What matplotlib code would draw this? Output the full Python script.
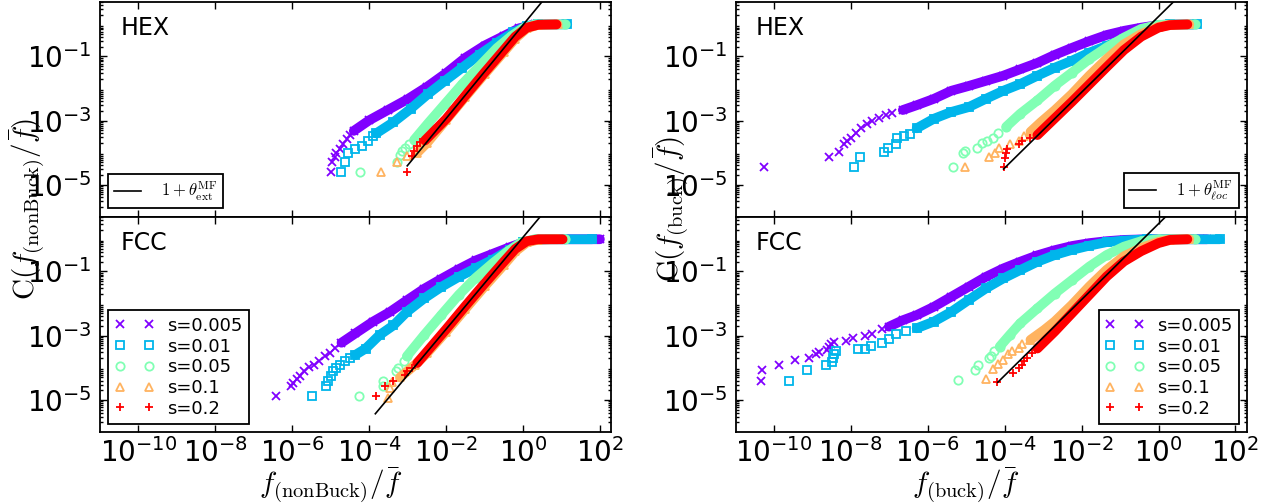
import numpy as np
import matplotlib
matplotlib.use('Agg')
import matplotlib.pyplot as plt
from matplotlib.ticker import FixedLocator, LogLocator, NullLocator, NullFormatter, LogFormatterSciNotation
from matplotlib.lines import Line2D

plt.rcParams['mathtext.fontset'] = 'cm'
plt.rcParams['axes.unicode_minus'] = False
plt.rcParams['font.family'] = ['DejaVu Sans']

# ---------------- common ----------------
labels = ['s=0.005', 's=0.01', 's=0.05', 's=0.1', 's=0.2']
markers = ['x', 's', 'o', '^', '+']
x_ticks = [1e-10, 1e-8, 1e-6, 1e-4, 1e-2, 1e0, 1e2]
y_ticks = [1e-5, 1e-3, 1e-1]

# ---------------- data (log10 f/fbar, log10 C) ----------------
# Left top: HEX, nonBuck
LT_005_tail = [(-5.0, -4.6), (-4.97, -4.3), (-4.9, -4.15), (-4.85, -4.0), (-4.76, -3.9), (-4.67, -3.72), (-4.58, -3.56), (-4.49, -3.46)]
LT_005_band = [(-4.4, -3.32), (-4.0, -2.99), (-3.5, -2.66), (-3.0, -2.33), (-2.5, -1.95), (-2.0, -1.52), (-1.5, -1.04), (-1.0, -0.66), (-0.5, -0.36), (-0.1, -0.12), (0.3, 0.0), (0.9, 0.0)]
LT_01_tail = [(-4.74, -4.6), (-4.63, -4.3), (-4.56, -4.0), (-4.38, -3.87), (-4.18, -3.79), (-4.04, -3.64), (-3.91, -3.48)]
LT_01_band = [(-3.82, -3.4), (-3.37, -3.05), (-2.92, -2.63), (-2.48, -2.18), (-2.03, -1.76), (-1.58, -1.35), (-1.13, -0.94), (-0.68, -0.57), (-0.25, -0.25), (0.1, -0.05), (0.4, 0.0), (1.15, 0.0)]
LT_05_tail = [(-4.24, -4.6), (-3.28, -4.3), (-3.21, -4.08), (-3.15, -3.95), (-3.06, -3.84), (-2.97, -3.74)]
LT_05_band = [(-2.83, -3.6), (-2.48, -3.1), (-2.03, -2.48), (-1.58, -1.86), (-1.13, -1.3), (-0.68, -0.74), (-0.3, -0.36), (0.0, -0.12), (0.3, 0.0), (1.08, 0.0)]
LT_1_tail = [(-3.7, -4.6), (-3.28, -4.3), (-3.01, -4.1)]
LT_1_band = [(-2.75, -4.0), (-2.5, -3.7), (-2.0, -2.98), (-1.5, -2.26), (-1.0, -1.55), (-0.5, -0.86), (-0.2, -0.44), (0.1, -0.12), (0.4, -0.01), (0.9, 0.0)]
LT_2_tail = [(-3.01, -4.6), (-2.88, -4.1), (-2.83, -3.95), (-2.76, -3.79), (-2.67, -3.67)]
LT_2_band = [(-2.55, -3.62), (-2.0, -2.95), (-1.5, -2.22), (-1.0, -1.5), (-0.5, -0.8), (-0.2, -0.38), (0.1, -0.1), (0.4, -0.01), (0.87, 0.0)]
LT_fit = (-3.01, -4.41, 1.46)   # start log x, start log C, slope

# Left bottom: FCC, nonBuck
LB_005_tail = [(-6.42, -4.89), (-6.04, -4.57), (-5.97, -4.47), (-5.88, -4.36), (-5.79, -4.26), (-5.70, -4.10), (-5.57, -3.98), (-5.43, -3.90), (-5.30, -3.79), (-5.16, -3.64), (-5.03, -3.53), (-4.89, -3.38)]
LB_005_band = [(-4.72, -3.22), (-4.36, -2.93), (-3.91, -2.57), (-3.46, -2.26), (-3.02, -1.9), (-2.57, -1.54), (-2.12, -1.23), (-1.67, -0.93), (-1.23, -0.66), (-0.78, -0.45), (-0.35, -0.25), (0.0, -0.1), (0.35, -0.01), (0.7, 0.0), (2.0, 0.0)]
LB_01_tail = [(-5.49, -4.89), (-5.12, -4.57), (-5.06, -4.42), (-5.0, -4.26), (-4.94, -4.10), (-4.85, -4.0), (-4.76, -3.90), (-4.63, -3.79), (-4.49, -3.69)]
LB_01_band = [(-4.36, -3.6), (-4.09, -3.4), (-3.73, -2.98), (-3.37, -2.68), (-3.02, -2.26), (-2.57, -1.84), (-2.12, -1.48), (-1.67, -1.17), (-1.23, -0.9), (-0.78, -0.63), (-0.35, -0.33), (0.0, -0.1), (0.35, -0.01), (0.7, 0.0), (1.8, 0.0)]
LB_05_tail = [(-4.27, -4.89), (-3.64, -4.57), (-3.64, -4.42), (-3.30, -4.10), (-3.24, -4.0), (-3.10, -3.79)]
LB_05_band = [(-3.02, -3.64), (-2.57, -2.98), (-2.12, -2.35), (-1.67, -1.73), (-1.23, -1.2), (-0.78, -0.74), (-0.4, -0.38), (-0.05, -0.1), (0.3, 0.0), (1.1, 0.0)]
LB_1_tail = [(-3.51, -4.94), (-3.45, -4.63), (-3.4, -4.45)]
LB_1_band = [(-3.2, -4.3), (-2.8, -3.9), (-2.5, -3.55), (-2.0, -2.88), (-1.5, -2.17), (-1.0, -1.47), (-0.5, -0.8), (-0.2, -0.38), (0.1, -0.1), (0.4, -0.01), (0.9, 0.0)]
LB_2_tail = [(-3.82, -4.89), (-3.58, -4.57), (-3.37, -4.40), (-3.06, -4.21), (-3.02, -4.10), (-2.88, -4.0)]
LB_2_band = [(-2.75, -3.85), (-2.5, -3.5), (-2.0, -2.8), (-1.5, -2.08), (-1.0, -1.38), (-0.5, -0.7), (-0.2, -0.3), (0.1, -0.06), (0.4, 0.0), (1.03, 0.0)]
LB_fit = (-3.84, -5.43, 1.43)

# Right top: HEX, buck
RT_005_tail = [(-10.27, -4.44), (-8.56, -4.15), (-8.31, -3.98), (-8.18, -3.74), (-8.09, -3.64), (-8.0, -3.53), (-7.86, -3.38), (-7.73, -3.22), (-7.59, -3.12), (-7.46, -3.02), (-7.28, -2.91), (-7.10, -2.81), (-6.92, -2.76)]
RT_005_band = [(-6.65, -2.67), (-6.29, -2.52), (-5.84, -2.32), (-5.39, -2.07), (-4.94, -1.92), (-4.49, -1.76), (-4.04, -1.6), (-3.60, -1.4), (-3.15, -1.2), (-2.70, -0.95), (-2.25, -0.73), (-1.80, -0.52), (-1.35, -0.33), (-0.90, -0.2), (-0.45, -0.1), (0.0, -0.02), (0.3, 0.0), (0.9, 0.0)]
RT_01_tail = [(-7.91, -4.44), (-7.77, -4.15), (-7.14, -3.98), (-7.03, -3.84), (-6.83, -3.74), (-6.81, -3.53), (-6.61, -3.48), (-6.47, -3.43)]
RT_01_band = [(-6.29, -3.24), (-5.84, -2.94), (-5.39, -2.73), (-4.94, -2.58), (-4.49, -2.32), (-4.04, -2.07), (-3.60, -1.86), (-3.15, -1.6), (-2.70, -1.35), (-2.25, -1.13), (-1.80, -0.88), (-1.35, -0.67), (-0.90, -0.46), (-0.45, -0.2), (0.0, -0.03), (0.3, 0.0), (1.0, 0.0)]
RT_05_tail = [(-5.35, -4.44), (-5.08, -4.02), (-5.02, -3.95), (-4.72, -3.84), (-4.58, -3.71), (-4.45, -3.64), (-4.31, -3.53), (-4.18, -3.38)]
RT_05_band = [(-3.96, -3.19), (-3.60, -2.79), (-3.15, -2.37), (-2.70, -1.91), (-2.25, -1.5), (-1.80, -1.08), (-1.35, -0.72), (-0.90, -0.41), (-0.45, -0.14), (0.0, -0.01), (0.94, 0.0)]
RT_1_tail = [(-5.02, -4.44), (-4.40, -4.15), (-4.24, -4.0), (-4.15, -3.84), (-3.87, -3.74), (-3.64, -3.64), (-3.51, -3.48)]
RT_1_band = [(-3.33, -3.35), (-3.06, -3.05), (-2.70, -2.68), (-2.25, -2.17), (-1.80, -1.6), (-1.35, -1.08), (-0.90, -0.62), (-0.45, -0.3), (0.0, -0.08), (0.3, -0.01), (0.8, 0.0)]
RT_2_tail = [(-4.03, -4.46), (-4.0, -4.18), (-3.96, -4.02), (-3.94, -3.89), (-3.64, -3.74), (-3.55, -3.64), (-3.33, -3.53)]
RT_2_band = [(-3.15, -3.45), (-2.70, -2.93), (-2.25, -2.41), (-1.80, -1.87), (-1.35, -1.33), (-0.90, -0.8), (-0.45, -0.38), (0.0, -0.1), (0.3, -0.02), (0.75, 0.0)]
RT_fit = (-4.03, -4.51, 1.18)

# Right bottom: FCC, buck
RB_005_tail = [(-10.33, -4.40), (-10.30, -4.08), (-9.86, -3.92), (-9.45, -3.77), (-9.10, -3.69), (-8.90, -3.58), (-8.82, -3.50), (-8.63, -3.46), (-8.58, -3.35), (-8.52, -3.25), (-8.45, -3.19), (-8.13, -3.17), (-7.95, -3.08), (-7.64, -3.01), (-7.46, -2.94), (-7.19, -2.80)]
RB_005_band = [(-7.01, -2.72), (-6.65, -2.52), (-6.29, -2.36), (-5.84, -2.1), (-5.39, -1.79), (-4.94, -1.48), (-4.49, -1.17), (-4.04, -0.91), (-3.60, -0.7), (-3.15, -0.5), (-2.70, -0.34), (-2.25, -0.21), (-1.80, -0.12), (-1.35, -0.06), (-0.90, -0.02), (-0.3, 0.0), (1.26, 0.0)]
RB_01_tail = [(-9.62, -4.40), (-9.15, -4.08), (-8.65, -3.92), (-8.49, -3.81), (-8.47, -3.71), (-8.43, -3.58), (-8.40, -3.48), (-7.82, -3.43), (-7.64, -3.40), (-7.48, -3.32), (-7.19, -3.22), (-7.01, -3.11), (-6.83, -2.96), (-6.56, -2.85)]
RB_01_band = [(-6.29, -2.77), (-5.84, -2.56), (-5.39, -2.26), (-4.94, -1.89), (-4.49, -1.53), (-4.04, -1.22), (-3.60, -0.96), (-3.15, -0.7), (-2.70, -0.49), (-2.25, -0.33), (-1.80, -0.2), (-1.35, -0.09), (-0.90, -0.04), (-0.3, 0.0), (1.59, 0.0)]
RB_05_tail = [(-5.21, -4.39), (-4.76, -4.08), (-4.69, -3.92), (-4.40, -3.69), (-4.36, -3.64), (-4.27, -3.48)]
RB_05_band = [(-4.13, -3.34), (-3.87, -2.98), (-3.60, -2.62), (-3.15, -2.15), (-2.70, -1.69), (-2.25, -1.27), (-1.80, -0.85), (-1.35, -0.49), (-0.90, -0.23), (-0.45, -0.06), (0.0, 0.0), (0.95, 0.0)]
RB_1_tail = [(-4.49, -4.36), (-4.30, -4.05), (-4.18, -3.88), (-4.04, -3.76), (-3.91, -3.58), (-3.82, -3.48), (-3.64, -3.38), (-3.55, -3.27)]
RB_1_band = [(-3.33, -3.13), (-2.97, -2.82), (-2.70, -2.56), (-2.25, -2.04), (-1.80, -1.47), (-1.35, -0.95), (-0.90, -0.53), (-0.45, -0.27), (0.0, -0.08), (0.3, -0.01), (0.8, 0.0)]
RB_2_tail = [(-4.21, -4.45), (-3.78, -4.16), (-3.64, -4.0), (-3.55, -3.90), (-3.49, -3.79), (-3.42, -3.69), (-3.28, -3.53)]
RB_2_band = [(-3.15, -3.4), (-2.70, -2.87), (-2.25, -2.3), (-1.80, -1.73), (-1.35, -1.16), (-0.90, -0.69), (-0.45, -0.37), (0.0, -0.12), (0.3, -0.02), (0.75, 0.0)]
RB_fit = (-4.18, -4.45, 1.18)

LT_series = [(LT_005_tail, LT_005_band), (LT_01_tail, LT_01_band), (LT_05_tail, LT_05_band), (LT_1_tail, LT_1_band), (LT_2_tail, LT_2_band)]
LB_series = [(LB_005_tail, LB_005_band), (LB_01_tail, LB_01_band), (LB_05_tail, LB_05_band), (LB_1_tail, LB_1_band), (LB_2_tail, LB_2_band)]
RT_series = [(RT_005_tail, RT_005_band), (RT_01_tail, RT_01_band), (RT_05_tail, RT_05_band), (RT_1_tail, RT_1_band), (RT_2_tail, RT_2_band)]
RB_series = [(RB_005_tail, RB_005_band), (RB_01_tail, RB_01_band), (RB_05_tail, RB_05_band), (RB_1_tail, RB_1_band), (RB_2_tail, RB_2_band)]

colors = [plt.cm.rainbow(v) for v in np.linspace(0, 1, 5)]


def to_xy(pts):
    a = np.array(pts, dtype=float)
    return 10 ** a[:, 0], 10 ** a[:, 1]


def marker_kw(m, c):
    if m in ('x', '+'):
        return dict(marker=m, color=c, ms=6, mew=1.3, ls='none')
    return dict(marker=m, mfc='none', mec=c, ms=6, mew=1.3, ls='none')


def draw_panel(ax, series, fit):
    for (tail, band), m, c in zip(series, markers, colors):
        bx, by = to_xy(band)
        ax.plot(bx, by, '-', color=c, lw=7, solid_capstyle='round', solid_joinstyle='round', zorder=2)
        tx, ty = to_xy(tail + band)
        ax.plot(tx, ty, zorder=2, **marker_kw(m, c))
    x0, y0, k = fit
    lx = np.array([x0, 1.5])
    ax.plot(10 ** lx, 10 ** (y0 + k * (lx - x0)), '-', color='k', lw=1.2, zorder=5)


def style_axes(ax, show_x):
    ax.set_xscale('log')
    ax.set_yscale('log')
    ax.set_xlim(1e-11, 2e2)
    ax.set_ylim(1e-6, 5)
    ax.xaxis.set_major_locator(FixedLocator(x_ticks))
    ax.xaxis.set_minor_locator(NullLocator())
    ax.yaxis.set_major_locator(FixedLocator(y_ticks))
    ax.yaxis.set_minor_locator(LogLocator(base=10, subs=np.arange(2, 10), numticks=50))
    ax.yaxis.set_minor_formatter(NullFormatter())
    ax.yaxis.set_major_formatter(LogFormatterSciNotation())
    if show_x:
        ax.xaxis.set_major_formatter(LogFormatterSciNotation())
    else:
        ax.xaxis.set_major_formatter(NullFormatter())
    ax.tick_params(which='both', direction='in', top=True, right=True, labelsize=20, width=1)
    ax.tick_params(which='major', length=5)
    ax.tick_params(axis='y', which='major', pad=6)
    ax.tick_params(axis='x', which='major', pad=4)
    ax.tick_params(which='minor', length=2.5)
    for s in ax.spines.values():
        s.set_linewidth(1.3)


fig = plt.figure(figsize=(12.66, 5.03), dpi=100)
axLT = fig.add_axes([0.079, 0.569, 0.404, 0.427])
axLB = fig.add_axes([0.079, 0.141, 0.404, 0.428])
axRT = fig.add_axes([0.581, 0.569, 0.404, 0.427])
axRB = fig.add_axes([0.581, 0.141, 0.404, 0.428])

draw_panel(axLT, LT_series, LT_fit)
draw_panel(axLB, LB_series, LB_fit)
draw_panel(axRT, RT_series, RT_fit)
draw_panel(axRB, RB_series, RB_fit)

for ax, sx in [(axLT, False), (axLB, True), (axRT, False), (axRB, True)]:
    style_axes(ax, sx)

for ax, t in [(axLT, 'HEX'), (axLB, 'FCC'), (axRT, 'HEX'), (axRB, 'FCC')]:
    ax.text(0.04, 0.88, t, transform=ax.transAxes, fontsize=17, va='center', ha='left')

leg_kw = dict(frameon=True, fancybox=False, framealpha=1, edgecolor='k')

h_ext = [Line2D([], [], color='k', lw=1.2)]
l1 = axLT.legend(h_ext, [r'$1+\theta^{\rm MF}_{\rm ext}$'], loc='lower left', fontsize=12,
                 handlelength=1.6, borderaxespad=0.5, borderpad=0.35, handletextpad=1.2, **leg_kw)
h_loc = [Line2D([], [], color='k', lw=1.2)]
l2 = axRT.legend(h_loc, [r'$1+\theta^{\rm MF}_{\ell oc}$'], loc='lower right', fontsize=12,
                 handlelength=1.6, borderaxespad=0.5, borderpad=0.35, handletextpad=1.2, **leg_kw)

handles = [Line2D([], [], **marker_kw(m, c)) for m, c in zip(markers, colors)]
for ax, loc in [(axLB, 'lower left'), (axRB, 'lower right')]:
    lg = ax.legend(handles, labels, loc=loc, numpoints=2, fontsize=13, handlelength=2.2,
                   labelspacing=0.15, borderaxespad=0.45, borderpad=0.35, handletextpad=0.7, **leg_kw)
    lg.get_frame().set_linewidth(1.3)
for lg in (l1, l2):
    lg.get_frame().set_linewidth(1.3)

axLB.text(0.45, -0.245, r'$f_{\rm (nonBuck)}/\bar{f}$', transform=axLB.transAxes, fontsize=21,
          ha='center', va='center')
axRB.text(0.45, -0.245, r'$f_{\rm (buck)}/\bar{f}$', transform=axRB.transAxes, fontsize=21,
          ha='center', va='center')
fig.text(0.021, 0.585, r'$\mathrm{C}(f_{\rm (nonBuck)}/\bar{f})$', rotation=90, fontsize=21,
         ha='center', va='center')
fig.text(0.530, 0.585, r'$\mathrm{C}(f_{\rm (buck)}/\bar{f})$', rotation=90, fontsize=21,
         ha='center', va='center')

fig.savefig('out.png', dpi=100)
